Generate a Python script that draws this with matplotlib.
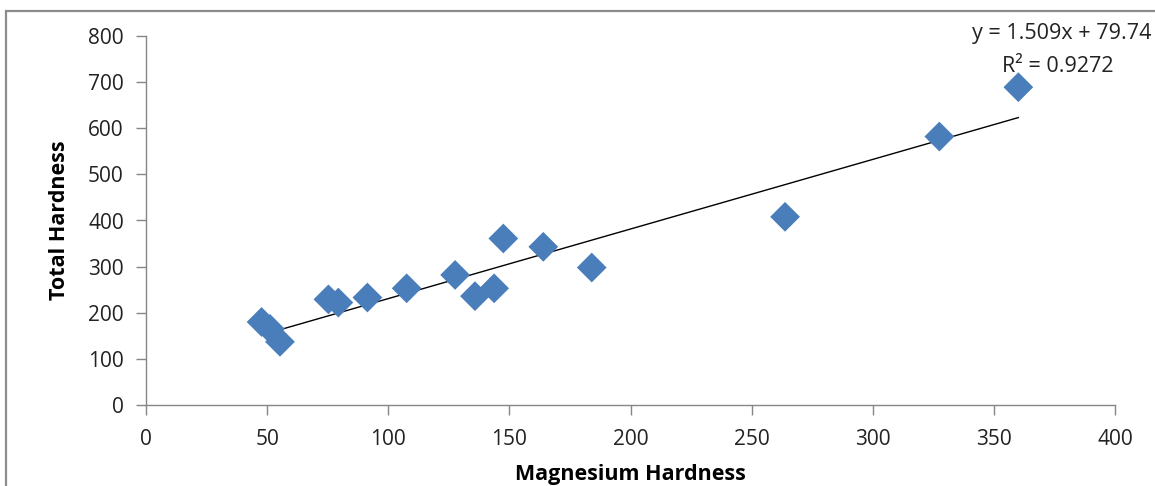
import matplotlib.pyplot as plt
from matplotlib.patches import Rectangle
import numpy as np

plt.rcParams['font.family'] = ['Open Sans', 'DejaVu Sans']

# Magnesium hardness vs total hardness samples
mg_hardness = [47.7, 51.2, 55.3, 75.3, 79.4, 91.4, 107.6, 127.6, 135.8,
               143.7, 147.5, 164.0, 184.0, 263.8, 327.5, 360.1]
total_hardness = [180, 165, 137, 229, 222, 233, 253, 282, 236,
                  253, 361, 343, 298, 408, 582, 689]

# linear trendline reported on the chart
slope = 1.509
intercept = 79.74
r_squared = 0.9272

x_ticks = [0, 50, 100, 150, 200, 250, 300, 350, 400]
y_ticks = [0, 100, 200, 300, 400, 500, 600, 700, 800]

W, H = 1155, 486
fig = plt.figure(figsize=(W / 100, H / 100), dpi=100)
ax = fig.add_axes([146 / W, 1 - 405 / H, (1115 - 146) / W, (405 - 36) / H])

# outer chart border, runs off the right and bottom edges
fig.patches.append(Rectangle((5.5 / W, -0.1), 1.2, 1.1 - 10.5 / H,
                             transform=fig.transFigure, fill=False,
                             edgecolor='#8c8c8c', linewidth=1.6))

ax.scatter(mg_hardness, total_hardness, marker='D', s=230,
           color='#4a7ebb', edgecolors='none', zorder=3)

xl = np.array([min(mg_hardness), max(mg_hardness)])
ax.plot(xl, slope * xl + intercept, color='black', linewidth=1.0, zorder=2)

ax.text(1062 / W, 1 - 34 / H, f'y = {slope}x + {intercept}',
        transform=fig.transFigure, fontsize=15.5, ha='center', va='center',
        color='#222222')
ax.text(1058 / W, 1 - 66 / H, f'R² = {r_squared}',
        transform=fig.transFigure, fontsize=15.5, ha='center', va='center',
        color='#222222')

ax.set_xlim(0, 400)
ax.set_ylim(0, 800)
ax.set_xticks(x_ticks)
ax.set_yticks(y_ticks)

for side in ['top', 'right']:
    ax.spines[side].set_visible(False)
for side in ['left', 'bottom']:
    ax.spines[side].set_color('#868686')
    ax.spines[side].set_linewidth(1.0)

ax.tick_params(direction='out', length=7, width=1.0, color='#868686',
               labelsize=15, labelcolor='#222222', pad=10)
ax.tick_params(axis='y', pad=9)

ax.set_xlabel('Magnesium Hardness', fontsize=15.5, fontweight='bold',
              labelpad=10)
ax.set_ylabel('Total Hardness', fontsize=15.5, fontweight='bold',
              labelpad=13)

fig.savefig('out.png', dpi=100)
